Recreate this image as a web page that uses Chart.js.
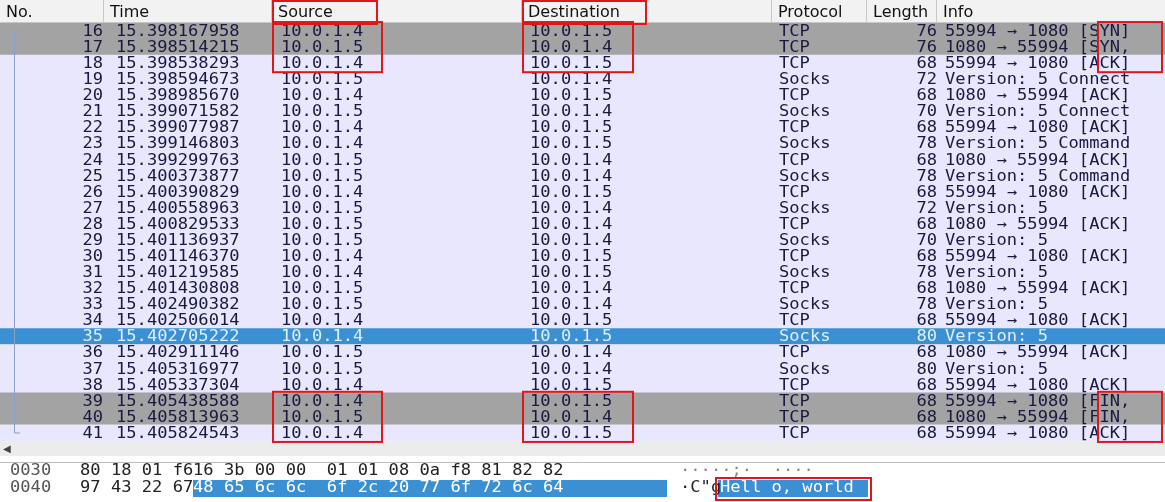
<!DOCTYPE html>
<html><head><meta charset="utf-8">
<script src="https://cdn.jsdelivr.net/npm/chart.js@4.4.0/dist/chart.umd.min.js"></script>
<style>html,body{margin:0;padding:0;background:#fff}#wrap{width:1165px;height:502px}</style>
</head><body><div id="wrap"><canvas id="c"></canvas></div>
<script>
const nums = [16,17,18,19,20,21,22,23,24,25,26,27,28,29,30,31,32,33,34,35,36,37,38,39,40,41];
const times = ['15.398167958','15.398514215','15.398538293','15.398594673','15.398985670','15.399071582','15.399077987','15.399146803','15.399299763','15.400373877','15.400390829','15.400558963','15.400829533','15.401136937','15.401146370','15.401219585','15.401430808','15.402490382','15.402506014','15.402705222','15.402911146','15.405316977','15.405337304','15.405438588','15.405813963','15.405824543'];
const A = '10.0.1.4', B = '10.0.1.5';
const sources = [A,B,A,B,A,B,A,A,B,B,A,B,B,B,A,A,B,B,A,A,B,B,A,A,B,A];
const dests   = [B,A,B,A,B,A,B,B,A,A,B,A,A,A,B,B,A,A,B,B,A,A,B,B,A,B];
const protocols = ['TCP','TCP','TCP','Socks','TCP','Socks','TCP','Socks','TCP','Socks','TCP','Socks','TCP','Socks','TCP','Socks','TCP','Socks','TCP','Socks','TCP','Socks','TCP','TCP','TCP','TCP'];
const lengths = [76,76,68,72,68,70,68,78,68,78,68,72,68,70,68,78,68,78,68,80,68,80,68,68,68,68];
const infos = ['55994 → 1080 [SYN]','1080 → 55994 [SYN,','55994 → 1080 [ACK]','Version: 5 Connect','1080 → 55994 [ACK]','Version: 5 Connect','55994 → 1080 [ACK]','Version: 5 Command','1080 → 55994 [ACK]','Version: 5 Command','55994 → 1080 [ACK]','Version: 5','1080 → 55994 [ACK]','Version: 5','55994 → 1080 [ACK]','Version: 5','1080 → 55994 [ACK]','Version: 5','55994 → 1080 [ACK]','Version: 5','1080 → 55994 [ACK]','Version: 5','55994 → 1080 [ACK]','55994 → 1080 [FIN,','1080 → 55994 [FIN,','55994 → 1080 [ACK]'];
const headers = ['No.','Time','Source','Destination','Protocol','Length','Info'];
const hexOffsets = ['0030','0040'];
const hexBytes = ['80 18 01 f6 16 3b 00 00  01 01 08 0a f8 81 82 82','97 43 22 67 48 65 6c 6c  6f 2c 20 77 6f 72 6c 64'];
const grayRows = [16,17,39,40];
const selRow = 35;

const rowColor = n => n === selRow ? '#3b8fd3' : grayRows.includes(n) ? '#a3a3a3' : '#e8e7fe';
const mono = '15px "DejaVu Sans Mono", monospace';
const SX = 1.14; // reference text is stretched horizontally

const textPlugin = {
  id: 'wire',
  afterDraw(chart) {
    const ctx = chart.ctx, y = chart.scales.y, area = chart.chartArea;
    ctx.save();
    // header
    ctx.fillStyle = '#f2f2f2'; ctx.fillRect(0, 0, 1165, area.top);
    ctx.strokeStyle = '#c8c8c8'; ctx.lineWidth = 1;
    ctx.beginPath(); ctx.moveTo(0, area.top - 0.5); ctx.lineTo(1165, area.top - 0.5); ctx.stroke();
    const hx = [6,110,278,528,778,873,943];
    ctx.font = '16px "DejaVu Sans", sans-serif'; ctx.fillStyle = '#111'; ctx.textBaseline = 'middle';
    headers.forEach((h, i) => {
      ctx.fillText(h, hx[i], area.top / 2 + 1);
      if (i > 0) { ctx.beginPath(); ctx.moveTo(hx[i] - 6.5, 0); ctx.lineTo(hx[i] - 6.5, area.top); ctx.stroke(); }
    });
    // rows (stretched text)
    ctx.save();
    ctx.scale(SX, 1);
    ctx.font = mono;
    nums.forEach((n, i) => {
      const py = y.getPixelForValue(i) + 1;
      ctx.fillStyle = n === selRow ? '#ddeeff' : '#1a1a40';
      ctx.textAlign = 'right'; ctx.fillText(String(n), 103 / SX, py);
      ctx.fillText(String(lengths[i]), 937 / SX, py);
      ctx.textAlign = 'left';
      ctx.fillText(times[i], 116 / SX, py);
      ctx.fillText(sources[i], 281 / SX, py);
      ctx.fillText(dests[i], 530 / SX, py);
      ctx.fillText(protocols[i], 779 / SX, py);
      ctx.fillText(infos[i], 945 / SX, py);
    });
    ctx.restore();
    // tree bracket
    const t0 = y.getPixelForValue(0), t1 = y.getPixelForValue(nums.length - 1);
    ctx.strokeStyle = '#8aa0c8';
    ctx.beginPath(); ctx.moveTo(20, t0); ctx.lineTo(14.5, t0); ctx.lineTo(14.5, t1); ctx.lineTo(20, t1); ctx.stroke();
    // scrollbar
    ctx.fillStyle = '#ececec'; ctx.fillRect(0, area.bottom, 1165, 15);
    ctx.fillStyle = '#444'; ctx.font = '10px sans-serif'; ctx.fillText('◀', 3, area.bottom + 8);
    // hex pane
    ctx.fillStyle = '#fff'; ctx.fillRect(0, area.bottom + 15, 1165, 502);
    ctx.strokeStyle = '#bbb'; ctx.beginPath(); ctx.moveTo(0, 462.5); ctx.lineTo(1165, 462.5); ctx.stroke();
    const hy = [471, 488];
    ctx.fillStyle = '#3b8fd3'; ctx.fillRect(193, 480, 474, 17); ctx.fillRect(718, 480, 150, 17);
    ctx.save();
    ctx.scale(SX, 1);
    ctx.font = mono;
    hexOffsets.forEach((o, i) => {
      ctx.fillStyle = '#555'; ctx.fillText(o, 10 / SX, hy[i]);
      ctx.fillStyle = '#222'; ctx.fillText(hexBytes[i].slice(0, 11), 80 / SX, hy[i]);
      ctx.fillStyle = i === 1 ? '#fff' : '#222'; ctx.fillText(hexBytes[i].slice(12), 193 / SX, hy[i]);
    });
    ctx.fillStyle = '#888'; ctx.fillText('·····;·  ····', 680 / SX, 471);
    ctx.fillStyle = '#222'; ctx.fillText('·C"g', 680 / SX, 488);
    ctx.fillStyle = '#fff'; ctx.fillText('Hell o, world', 720 / SX, 488);
    ctx.restore();
    // red boxes
    ctx.strokeStyle = '#e0161b'; ctx.lineWidth = 2;
    const top = i => y.getPixelForValue(i) - 8, bot = i => y.getPixelForValue(i) + 8;
    const box = (x0, x1, y0, y1) => ctx.strokeRect(x0, y0, x1 - x0, y1 - y0);
    box(273, 377, 1, area.top + 1); box(523, 646, 1, area.top + 1);
    [[0, 2], [23, 25]].forEach(([a, b]) => {
      box(273, 382, top(a) - 1, bot(b) + 1);
      box(523, 633, top(a) - 1, bot(b) + 1);
      box(1098, 1162, top(a) - 1, bot(b) + 1);
    });
    box(716, 871, 478, 500);
    ctx.restore();
  }
};

new Chart(document.getElementById('c'), {
  type: 'bar',
  data: {
    labels: nums.map(String),
    datasets: [{
      data: nums.map(() => 1),
      backgroundColor: nums.map(rowColor),
      barPercentage: 1, categoryPercentage: 1, borderWidth: 0
    }]
  },
  options: {
    indexAxis: 'y', responsive: true, maintainAspectRatio: false, animation: false,
    layout: { padding: { top: 23, bottom: 61, left: 0, right: 0 } },
    scales: {
      x: { display: false, min: 0, max: 1 },
      y: { display: false }
    },
    plugins: { legend: { display: false }, tooltip: { enabled: false } }
  },
  plugins: [textPlugin]
});
</script></body></html>
